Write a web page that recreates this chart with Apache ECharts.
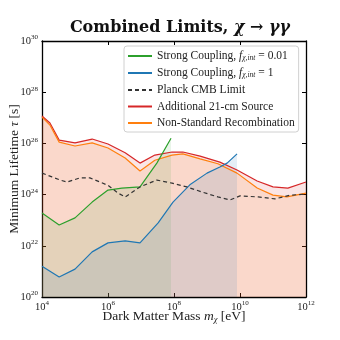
<!DOCTYPE html>
<html>
<head>
<meta charset="utf-8">
<script src="https://cdn.jsdelivr.net/npm/echarts@6/dist/echarts.min.js"></script>
<style>
html,body{margin:0;padding:0;background:#fff;}
#chart{width:340px;height:340px;}
</style>
</head>
<body>
<div id="chart"></div>
<script>
// Strong coupling, f = 0.01 (green)
const massGreen = [1e4, 3.31e4, 1e5, 3.31e5, 1e6, 2.63e6, 9.33e6, 3.02e7, 8.13e7];
const tauGreen  = [1.9e23, 6.5e22, 1.23e23, 5.1e23, 1.5e24, 1.8e24, 2.0e24, 1.7e25, 1.6e26];
// Strong coupling, f = 1 (blue)
const massBlue = [1e4, 3.31e4, 1e5, 3.31e5, 1e6, 3.31e6, 9.33e6, 3.31e7, 9.33e7, 3.02e8, 1e9, 2.45e9, 4.07e9, 8.13e9];
const tauBlue  = [1.6e21, 6.0e20, 1.23e21, 5.8e21, 1.3e22, 1.55e22, 1.3e22, 7.8e22, 5.1e23, 2.4e24, 6.9e24, 1.2e25, 1.7e25, 3.9e25];
// Planck CMB limit (dashed)
const massPlanck = [1e4, 2e4, 3.55e4, 5.75e4, 1.41e5, 2.82e5, 1e6, 2e6, 3.31e6, 9.33e6, 3.02e7, 8.71e7, 2.45e8, 7.08e8, 2.14e9, 5e9, 1e10, 3.55e10, 1.15e11, 3.31e11, 1e12];
const tauPlanck  = [6.9e24, 4.9e24, 3.7e24, 3.1e24, 4.5e24, 4.5e24, 2.3e24, 1.15e24, 8.1e23, 2.0e24, 3.7e24, 2.8e24, 2.0e24, 1.26e24, 8.1e23, 6.2e23, 8.9e23, 8.1e23, 6.8e23, 9.5e23, 1.05e24];
// Additional 21-cm source (red)
const massRed = [1e4, 1.74e4, 2.45e4, 3.31e4, 1e5, 3.31e5, 1e6, 3.31e6, 9.33e6, 2.63e7, 8.71e7, 1.86e8, 6.17e8, 2.45e9, 8.13e9, 3.31e10, 1e11, 2.82e11, 1e12];
const tauRed  = [1.17e27, 6.3e26, 2.8e26, 1.35e26, 1.05e26, 1.48e26, 9.5e25, 4.3e25, 1.7e25, 3.5e25, 4.6e25, 4.6e25, 3.2e25, 1.86e25, 9.1e24, 3.4e24, 2.0e24, 1.8e24, 3.1e24];
// Non-standard recombination (orange)
const massOrange = [1e4, 1.74e4, 2.45e4, 3.31e4, 1e5, 3.31e5, 1e6, 3.31e6, 9.33e6, 2.63e7, 8.71e7, 1.86e8, 6.17e8, 2.14e9, 8.13e9, 3.31e10, 1e11, 2.63e11, 1e12];
const tauOrange  = [1.07e27, 5.2e26, 2.3e26, 1.12e26, 7.9e25, 1.05e26, 6.6e25, 2.7e25, 8.3e24, 2.2e25, 3.5e25, 3.9e25, 2.5e25, 1.6e25, 6.9e24, 1.8e24, 9.5e23, 8.1e23, 1.15e24];

const seriesNames = ['green', 'blue', 'planck', 'red', 'orange'];

function zip(a, b) { return a.map((v, i) => [v, b[i]]); }

const SERIF = '"Liberation Serif", "DejaVu Serif", serif';
const chart = echarts.init(document.getElementById('chart'), null, {renderer: 'canvas'});

const tickLabel = v => '{b|10}{s|' + Math.round(Math.log10(v)) + '}';
const tickRich = {
  b: {fontFamily: SERIF, fontSize: 10.5, color: '#222'},
  s: {fontFamily: SERIF, fontSize: 7, color: '#222', padding: [0, 0, 7, 0]}
};
const baseAxis = {
  type: 'log', logBase: 10,
  axisLine: {show: true, lineStyle: {color: '#000', width: 1.3}},
  axisTick: {show: true, inside: true, length: 4, lineStyle: {color: '#000', width: 1}},
  splitLine: {show: false},
  minorTick: {show: false}
};

const legendText = {
  green: 'Strong Coupling, {i|f}{sub|χ,int}{t| = 0.01}',
  blue: 'Strong Coupling, {i|f}{sub|χ,int}{t| = 1}',
  planck: 'Planck CMB Limit',
  red: 'Additional 21-cm Source',
  orange: 'Non-Standard Recombination'
};

function lineSeries(name, data, color, fill, dashed) {
  const s = {
    name: name, type: 'line', data: data, symbol: 'none', smooth: false,
    xAxisIndex: 0, yAxisIndex: 0,
    lineStyle: {color: color, width: 1.2, type: dashed ? [4, 3] : 'solid'},
    itemStyle: {color: color},
    emphasis: {disabled: true}
  };
  if (fill) s.areaStyle = {color: fill, origin: 'start', opacity: 1};
  return s;
}

chart.setOption({
  animation: false,
  backgroundColor: '#fff',
  title: {
    text: '{b|Combined Limits, }{m|χ → γγ}',
    left: 175, top: 15, textAlign: 'center',
    textStyle: {
      rich: {
        b: {fontFamily: '"DejaVu Serif", serif', fontWeight: 'bold', fontSize: 16, color: '#111'},
        m: {fontFamily: '"DejaVu Serif", serif', fontStyle: 'italic', fontSize: 16, color: '#111'}
      }
    }
  },
  grid: {left: 42, right: 34, top: 41, bottom: 43, containLabel: false, outerBoundsMode: 'none'},
  xAxis: [
    Object.assign({}, baseAxis, {
      min: 1e4, max: 1e12, interval: 2, position: 'bottom',
      axisLabel: {formatter: tickLabel, rich: tickRich, margin: 3},
      name: '{t|Dark Matter Mass }{i|m}{sub|χ}{t| [eV]}',
      nameLocation: 'middle', nameGap: 12, nameMoveOverlap: false,
      nameTextStyle: {rich: {
        t: {fontFamily: SERIF, fontSize: 13.5, color: '#222'},
        i: {fontFamily: SERIF, fontSize: 13.5, fontStyle: 'italic', color: '#222'},
        sub: {fontFamily: SERIF, fontSize: 8.5, fontStyle: 'italic', color: '#222', padding: [6, 0, 0, 0]}
      }}
    }),
    Object.assign({}, baseAxis, {
      min: 1e4, max: 1e12, interval: 2, position: 'top',
      axisLabel: {show: false}
    })
  ],
  yAxis: [
    Object.assign({}, baseAxis, {
      min: 1e20, max: 1e30, interval: 2, position: 'left',
      axisLabel: {formatter: tickLabel, rich: tickRich, margin: 4},
      name: '{t|Minimum Lifetime }{i|τ}{t| [s]}',
      nameLocation: 'middle', nameGap: 21, nameRotate: 90, nameMoveOverlap: false,
      nameTextStyle: {rich: {
        t: {fontFamily: SERIF, fontSize: 13.5, color: '#222'},
        i: {fontFamily: SERIF, fontSize: 13.5, fontStyle: 'italic', color: '#222'}
      }}
    }),
    Object.assign({}, baseAxis, {
      min: 1e20, max: 1e30, interval: 2, position: 'right',
      axisLabel: {show: false}
    })
  ],
  legend: {
    data: seriesNames,
    orient: 'vertical',
    left: 124, top: 46,
    itemWidth: 24, itemHeight: 10, itemGap: 4.5,
    padding: [4, 4, 3, 3],
    backgroundColor: 'rgba(255,255,255,0.85)',
    borderColor: '#d0d0d0', borderWidth: 1, borderRadius: 3,
    selectedMode: false,
    itemStyle: {opacity: 0},
    formatter: n => legendText[n],
    textStyle: {
      fontFamily: SERIF, fontSize: 11.5, color: '#222',
      rich: {
        i: {fontFamily: SERIF, fontSize: 11.5, fontStyle: 'italic', color: '#222'},
        sub: {fontFamily: SERIF, fontSize: 7.5, fontStyle: 'italic', color: '#222', padding: [5, 0, 0, 0]},
        t: {fontFamily: SERIF, fontSize: 11.5, color: '#222'}
      }
    }
  },
  series: [
    lineSeries('red', zip(massRed, tauRed), '#d62728', 'rgba(214,39,40,0.12)'),
    lineSeries('orange', zip(massOrange, tauOrange), '#ff7f0e', 'rgba(255,127,14,0.12)'),
    lineSeries('green', zip(massGreen, tauGreen), '#2ca02c', 'rgba(44,160,44,0.1)'),
    lineSeries('blue', zip(massBlue, tauBlue), '#1f77b4', 'rgba(31,119,180,0.12)'),
    lineSeries('planck', zip(massPlanck, tauPlanck), '#333333', null, true)
  ]
});
</script>
</body>
</html>
